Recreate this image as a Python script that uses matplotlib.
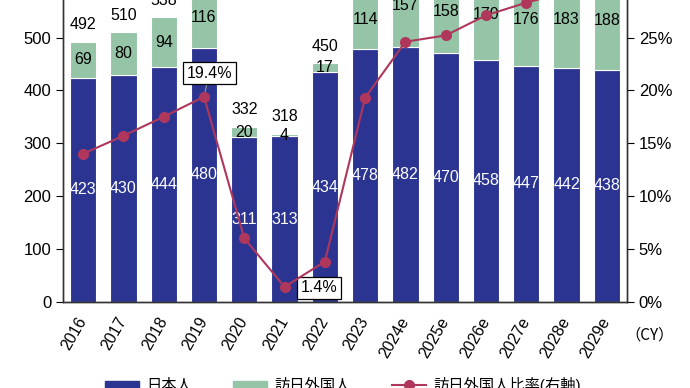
import matplotlib
matplotlib.use("Agg")
import matplotlib.pyplot as plt
import numpy as np
from matplotlib.patches import Patch
from matplotlib.lines import Line2D

plt.rcParams['font.family'] = ['Liberation Sans', 'Noto Sans CJK JP', 'DejaVu Sans']

years = ["2016", "2017", "2018", "2019", "2020", "2021", "2022", "2023",
         "2024e", "2025e", "2026e", "2027e", "2028e", "2029e"]
japanese = [423, 430, 444, 480, 311, 313, 434, 478, 482, 470, 458, 447, 442, 438]
foreign = [69, 80, 94, 116, 20, 4, 17, 114, 157, 158, 170, 176, 183, 188]
totals = [492, 510, 538, 596, 332, 318, 450, 592, 639, 628, 628, 623, 625, 626]
ratio = [14.0, 15.7, 17.5, 19.4, 6.0, 1.4, 3.8, 19.3, 24.6, 25.2, 27.1, 28.3, 29.3, 30.0]
left_ticks = [0, 100, 200, 300, 400, 500]
right_ticks = [0, 5, 10, 15, 20, 25]

navy = "#2B3591"
green = "#95C4A7"
red = "#B0375C"
fs = 11.5

fig = plt.figure(figsize=(6.9, 3.88), dpi=100)
ax = fig.add_axes([63/690, 1 - 301.7/388, (627-63)/690, 301.7/388])
x = np.arange(len(years))
w = 0.65
ax.bar(x, japanese, w, color=navy, edgecolor="white", linewidth=0.8, zorder=2)
ax.bar(x, foreign, w, bottom=japanese, color=green, edgecolor="white", linewidth=0.8, zorder=2)

for i in range(len(years)):
    ax.text(x[i], japanese[i] / 2, str(japanese[i]), ha="center", va="center",
            color="white", fontsize=fs, zorder=3)
    ax.text(x[i], japanese[i] + foreign[i] / 2, str(foreign[i]), ha="center", va="center",
            color="black", fontsize=fs, zorder=3)
    ax.annotate(str(totals[i]), (x[i], japanese[i] + foreign[i]), xytext=(0, 7),
                textcoords="offset points", ha="center", va="bottom", fontsize=fs,
                color="black", annotation_clip=False)

ymax = 571
ax.set_ylim(0, ymax)
ax.set_xlim(-0.5, len(years) - 0.5)
ax.set_yticks(left_ticks)
ax.set_xticks(x)
ax.set_xticklabels(years, rotation=60, ha="right", va="center", rotation_mode="anchor", fontsize=fs)
ax.tick_params(axis="x", length=0, pad=12)
ax.tick_params(axis="y", direction="out", length=5, labelsize=12, width=0.8)
ax.spines["top"].set_visible(False)
for s in ["left", "bottom", "right"]:
    ax.spines[s].set_color("#333333")
    ax.spines[s].set_linewidth(1.0)

ax2 = ax.twinx()
ax2.set_ylim(0, ymax / 20)
ax2.plot(x, ratio, color=red, linewidth=1.5, marker="o", markersize=7, zorder=4)
ax2.set_yticks(right_ticks)
ax2.set_yticklabels([f"{t}%" for t in right_ticks])
ax2.tick_params(axis="y", direction="out", length=5, labelsize=12, width=0.8)
ax2.spines["top"].set_visible(False)
for s in ["left", "bottom", "right"]:
    ax2.spines[s].set_color("#333333")
    ax2.spines[s].set_linewidth(1.0)

box = dict(boxstyle="square,pad=0.22", fc="white", ec="black", lw=0.9)
ax2.annotate(f"{ratio[3]}%", (x[3], ratio[3]), xytext=(x[3] + 0.13, 21.6),
             ha="center", va="center", fontsize=fs, bbox=box,
             arrowprops=dict(arrowstyle="-", color="#999999", lw=0.8, shrinkA=0, shrinkB=3))
ax2.annotate(f"{ratio[5]}%", (x[5], ratio[5]), xytext=(x[5] + 0.86, 1.3),
             ha="center", va="center", fontsize=fs, bbox=box)

fig.text(650/690, 1 - 335/388, "（CY）", ha="center", va="center", fontsize=11,
         family=['Noto Sans CJK JP'])

handles = [Patch(color=navy), Patch(color=green),
           Line2D([0], [0], color=red, marker="o", markersize=7, lw=1.5)]
labels = ["日本人", "訪日外国人", "訪日外国人比率(右軸)"]
fig.legend(handles, labels, loc="center", bbox_to_anchor=(0.497, 0.008), ncol=3,
           frameon=False, fontsize=11, handlelength=2.2, handleheight=0.4,
           columnspacing=2.7, handletextpad=0.5)

fig.savefig("out.png", dpi=100)
